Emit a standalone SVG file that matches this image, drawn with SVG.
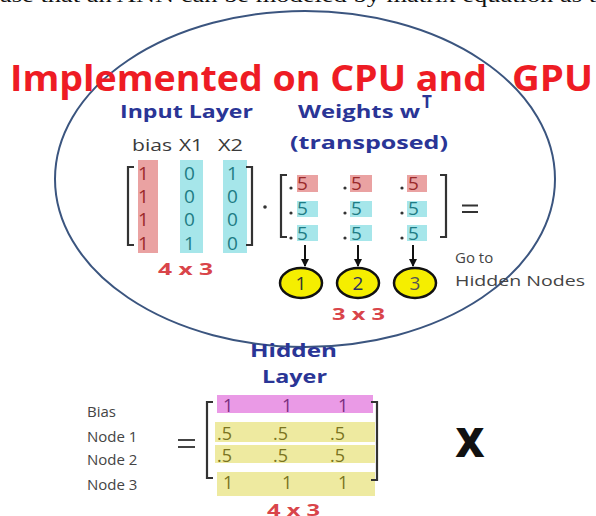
<svg xmlns="http://www.w3.org/2000/svg" width="596" height="516" viewBox="0 0 596 516">
<defs>
<style>
.cut{font-family:"Liberation Serif",serif;font-size:21px;fill:#111}
.title{font-family:"Open Sans",sans-serif;font-weight:700;font-size:36px;fill:#ee1c24}
.blue{font-family:"Open Sans",sans-serif;font-weight:700;font-size:17px;fill:#2a3596}
.gray{font-family:"Open Sans",sans-serif;font-size:15px;fill:#444}
.hdr{font-family:"Open Sans",sans-serif;font-size:16px;fill:#3a3a3a}
.dim{font-family:"Open Sans",sans-serif;font-weight:700;font-size:16px;fill:#d9454a}
.num{font-family:"Open Sans",sans-serif;font-size:19px}
.hnum{font-family:"Open Sans",sans-serif;font-size:18px}
.red{fill:#9a2a2a}
.teal{fill:#1e7c84}
.purp{fill:#7a2e80}
.olive{fill:#7a7420}
.br{fill:none;stroke:#333;stroke-width:2.2}
.pk{fill:#eaa2a2}
.cy{fill:#a6e6ea}
.mg{fill:#ea9ae6}
.yl{fill:#eeeaa0}
.node{fill:#f5ee00;stroke:#111;stroke-width:2.5}
.arr{stroke:#111;stroke-width:2;fill:none}
</style>
<marker id="ah" markerWidth="8" markerHeight="8" refX="7" refY="4" orient="auto" markerUnits="userSpaceOnUse"><path d="M0,0 L8,4 L0,8 z" fill="#111"/></marker>
</defs>
<rect width="596" height="516" fill="#fff"/>
<text class="cut" x="0" y="2" textLength="596" lengthAdjust="spacingAndGlyphs">ase that an ANN can be modeled by matrix equation as t</text>
<ellipse cx="305" cy="179" rx="250" ry="168" fill="none" stroke="#3b557f" stroke-width="2"/>

<g id="title">
<text class="title" x="10" y="91" textLength="477" lengthAdjust="spacingAndGlyphs">Implemented on CPU and</text>
<text class="title" x="512" y="91" textLength="81" lengthAdjust="spacingAndGlyphs">GPU</text>
</g>

<g id="input-layer">
<text class="blue" x="120" y="118" textLength="133" lengthAdjust="spacingAndGlyphs">Input Layer</text>
<text class="hdr" x="132" y="151" textLength="40" lengthAdjust="spacingAndGlyphs">bias</text>
<text class="hdr" x="179" y="151" textLength="24" lengthAdjust="spacingAndGlyphs">X1</text>
<text class="hdr" x="218" y="151" textLength="25" lengthAdjust="spacingAndGlyphs">X2</text>
<rect class="pk" x="138" y="160" width="20" height="93"/>
<rect class="cy" x="180" y="160" width="23" height="93"/>
<rect class="cy" x="223" y="160" width="24" height="93"/>
<path class="br" d="M134,167 H128 V245 H134"/>
<path class="br" d="M246,167 H252 V245 H246"/>
<g class="num red"><text x="138" y="180">1</text><text x="138" y="203">1</text><text x="138" y="226">1</text><text x="138" y="250">1</text></g>
<g class="num teal"><text x="184" y="180">0</text><text x="184" y="203">0</text><text x="184" y="226">0</text><text x="184" y="250">1</text></g>
<g class="num teal"><text x="227" y="180">1</text><text x="227" y="203">0</text><text x="227" y="226">0</text><text x="227" y="250">0</text></g>
<text class="dim" x="158" y="275" textLength="55" lengthAdjust="spacingAndGlyphs">4 x 3</text>
<circle cx="265" cy="207" r="1.8" fill="#333"/>
</g>

<g id="weights">
<text class="blue" x="298" y="118" textLength="122" lengthAdjust="spacingAndGlyphs">Weights w</text>
<text class="blue" x="422" y="108" font-size="9">T</text>
<text class="blue" x="290" y="149" textLength="158" lengthAdjust="spacingAndGlyphs">(transposed)</text>
<rect class="pk" x="297" y="175" width="21" height="17"/>
<rect class="pk" x="350" y="175" width="22" height="17"/>
<rect class="pk" x="407" y="175" width="20" height="17"/>
<rect class="cy" x="297" y="201" width="21" height="16"/>
<rect class="cy" x="350" y="201" width="22" height="16"/>
<rect class="cy" x="407" y="201" width="20" height="16"/>
<rect class="cy" x="297" y="225" width="21" height="16"/>
<rect class="cy" x="350" y="225" width="22" height="16"/>
<rect class="cy" x="407" y="225" width="20" height="16"/>
<path class="br" d="M287,175 H281 V237 H287"/>
<path class="br" d="M440,175 H446 V237 H440"/>
<g fill="#333"><circle cx="291" cy="188" r="1.6"/><circle cx="345" cy="188" r="1.6"/><circle cx="402" cy="188" r="1.6"/>
<circle cx="291" cy="213" r="1.6"/><circle cx="345" cy="213" r="1.6"/><circle cx="402" cy="213" r="1.6"/>
<circle cx="291" cy="238" r="1.6"/><circle cx="345" cy="238" r="1.6"/><circle cx="402" cy="238" r="1.6"/></g>
<g class="num red"><text x="297" y="190">5</text><text x="351" y="190">5</text><text x="408" y="190">5</text></g>
<g class="num teal"><text x="297" y="215">5</text><text x="351" y="215">5</text><text x="408" y="215">5</text>
<text x="297" y="240">5</text><text x="351" y="240">5</text><text x="408" y="240">5</text></g>
<path d="M462,205.5 H478 M462,212 H478" stroke="#333" stroke-width="2"/>
<text class="dim" x="332" y="320" textLength="53" lengthAdjust="spacingAndGlyphs">3 x 3</text>
<text class="gray" x="455" y="263">Go to</text>
<text class="gray" x="455" y="286" textLength="130" lengthAdjust="spacingAndGlyphs">Hidden Nodes</text>
</g>

<g id="node1"><ellipse class="node" cx="301" cy="283" rx="21" ry="15"/><text class="num" x="301" y="290" text-anchor="middle" fill="#333">1</text></g>
<g id="node2"><ellipse class="node" cx="358" cy="283" rx="21" ry="15"/><text class="num" x="358" y="290" text-anchor="middle" fill="#2a3060">2</text></g>
<g id="node3"><ellipse class="node" cx="415" cy="283" rx="21" ry="15"/><text class="num" x="415" y="290" text-anchor="middle" fill="#555">3</text></g>

<g id="connectors">
<line class="arr" x1="305" y1="245" x2="305" y2="266" marker-end="url(#ah)"/>
<line class="arr" x1="358" y1="245" x2="358" y2="266" marker-end="url(#ah)"/>
<line class="arr" x1="413" y1="245" x2="413" y2="266" marker-end="url(#ah)"/>
</g>

<g id="hidden-layer">
<text class="blue" x="250" y="357" textLength="87" lengthAdjust="spacingAndGlyphs">Hidden</text>
<text class="blue" x="262" y="383" textLength="65" lengthAdjust="spacingAndGlyphs">Layer</text>
<text class="gray" x="87" y="417">Bias</text>
<text class="gray" x="87" y="442">Node 1</text>
<text class="gray" x="87" y="465">Node 2</text>
<text class="gray" x="87" y="490">Node 3</text>
<path d="M178,440 H195 M178,447 H195" stroke="#444" stroke-width="2.2"/>
<rect class="mg" x="217" y="395" width="156" height="18"/>
<rect class="yl" x="215" y="422" width="160" height="20"/>
<rect class="yl" x="215" y="445" width="160" height="18"/>
<rect class="yl" x="217" y="472" width="158" height="24"/>
<path class="br" d="M213,402 H207 V478 H213"/>
<path class="br" d="M371,402 H377 V480 H371"/>
<g class="hnum purp"><text x="223" y="412">1</text><text x="282" y="412">1</text><text x="338" y="412">1</text></g>
<g class="hnum olive"><text x="217" y="440">.5</text><text x="273" y="440">.5</text><text x="330" y="440">.5</text>
<text x="217" y="462">.5</text><text x="273" y="462">.5</text><text x="330" y="462">.5</text>
<text x="223" y="489">1</text><text x="282" y="489">1</text><text x="338" y="489">1</text></g>
<text class="dim" x="267" y="516" textLength="53" lengthAdjust="spacingAndGlyphs">4 x 3</text>
</g>

<g id="times">
<text x="470" y="457" text-anchor="middle" font-family="Open Sans, sans-serif" font-weight="800" font-size="40" fill="#111">X</text>
</g>
</svg>
